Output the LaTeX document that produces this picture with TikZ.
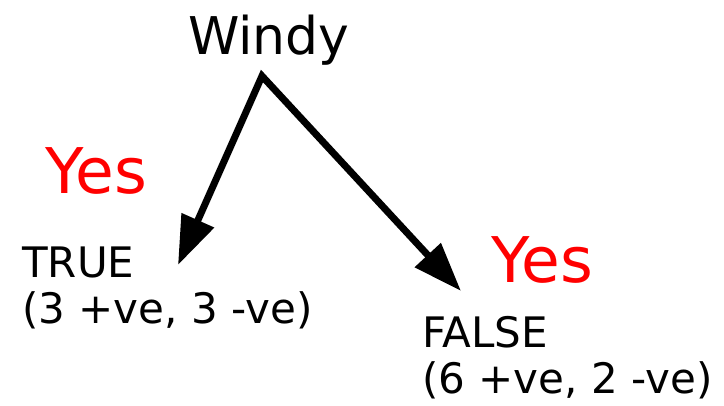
\documentclass[tikz,border=0pt]{standalone}
\usepackage{fontspec}
\setmainfont{DejaVu Sans}
\usetikzlibrary{arrows.meta}
\begin{document}
\begin{tikzpicture}[x=1pt,y=-1pt,
  lbl/.style={inner sep=0pt, anchor=base west, align=left, font=\fontsize{42}{46}\selectfont},
  title/.style={inner sep=0pt, anchor=base west, font=\fontsize{52}{60}\selectfont},
  yeslbl/.style={inner sep=0pt, anchor=base west, text=red, font=\fontsize{63}{72}\selectfont},
  conn/.style={line width=7pt, line join=miter, miter limit=20,
    {Triangle[length=49pt,width=34pt]}-{Triangle[length=49pt,width=34pt]}}]
\useasboundingbox (0,0) rectangle (724,405);
\node[title] (windy) at (188,54) {Windy};
\node[yeslbl] (yes1) at (45,193) {Yes};
\node[yeslbl] (yes2) at (491,282) {Yes};
\node[lbl] (true) at (22,323) {TRUE\\(3 +ve, 3 -ve)};
\node[lbl] (false) at (422,393) {FALSE\\(6 +ve, 2 -ve)};
\coordinate (apex) at (262,76);
\coordinate (tipT) at (178,265);
\coordinate (tipF) at (461,291);
\draw[conn] (tipT) -- (apex) -- (tipF);
\end{tikzpicture}
\end{document}
